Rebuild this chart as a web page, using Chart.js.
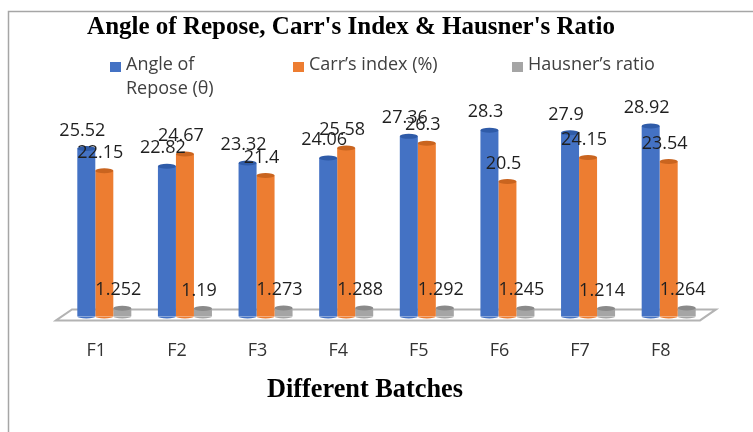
<!DOCTYPE html>
<html><head><meta charset="utf-8">
<style>html,body{margin:0;padding:0;background:#fff}#w{position:relative;width:753px;height:432px}</style>
<script src="https://cdn.jsdelivr.net/npm/chart.js@4/dist/chart.umd.min.js"></script>
</head><body><div id="w"><canvas id="c" width="753" height="432"></canvas></div>
<script>
const categories=["F1","F2","F3","F4","F5","F6","F7","F8"];
const angleOfRepose=[25.52,22.82,23.32,24.06,27.36,28.3,27.9,28.92];
const carrsIndex=[22.15,24.67,21.4,25.58,26.3,20.5,24.15,23.54];
const hausnersRatio=[1.252,1.19,1.273,1.288,1.292,1.245,1.214,1.264];
const seriesNames=["Angle of Repose (θ)","Carr’s index (%)","Hausner’s ratio"];
const chartTitle="Angle of Repose, Carr's Index & Hausner's Ratio";
const axisTitle="Different Batches";
const shades=[["#2f5597","#4472c4","#5b88d8","#4472c4","#2c4f8f"],["#b85f1f","#ed7d31","#ff8f3f","#ed7d31","#a9561c"],["#6e6e6e","#a5a5a5","#b8b8b8","#a5a5a5","#666"]];
const lids=["#2f5ba8","#c9641f","#8a8a8a"];
function fill(ctx){
 const el=ctx.element,g=ctx.chart.ctx;
 if(!el||el.width===undefined||!isFinite(el.x))return shades[ctx.datasetIndex][1];
 const w=el.width,gr=g.createLinearGradient(el.x-w/2,0,el.x+w/2,0),s=shades[ctx.datasetIndex];
 [0,.2,.5,.8,1].forEach((p,i)=>gr.addColorStop(p,s[i]));
 return gr;
}
const frame={id:'frame',afterLayout(ch){
 if(ch.titleBlock){ch.titleBlock.left=0;ch.titleBlock.right=702;}
},beforeDraw(ch){
 const g=ch.ctx,a=ch.chartArea;g.save();
 g.strokeStyle='#a6a6a6';g.lineWidth=1.5;
 g.beginPath();g.moveTo(8.5,432);g.lineTo(8.5,11.5);g.lineTo(753,11.5);g.stroke();
 g.strokeStyle='#b3b3b3';g.lineWidth=2;
 g.beginPath();g.moveTo(a.left-8,a.bottom+4);g.lineTo(a.left+8,a.bottom-7);g.lineTo(a.right+7,a.bottom-7);g.lineTo(a.right-9,a.bottom+4);g.closePath();g.stroke();
 g.restore();
}};
const deco={id:'deco',afterDatasetsDraw(ch){
 const g=ch.ctx;g.save();
 ch.data.datasets.forEach((d,di)=>ch.getDatasetMeta(di).data.forEach((b,i)=>{
  const w=b.width;
  g.fillStyle=shades[di][1];g.beginPath();g.ellipse(b.x,b.base,w/2,2,0,0,Math.PI);g.fill();
  g.fillStyle=lids[di];g.beginPath();g.ellipse(b.x,b.y,w/2,2.5,0,0,2*Math.PI);g.fill();
 }));
 g.fillStyle='#1f1f1f';g.font='18px "Open Sans"';g.textAlign='center';g.textBaseline='middle';
 ch.data.datasets.forEach((d,di)=>ch.getDatasetMeta(di).data.forEach((b,i)=>{
  g.fillText(String(d.data[i]),b.x-4,b.y-18);
 }));
 const xs=[110,293,512];
 g.font='18px "Open Sans"';g.textAlign='left';
 const lines=[["Angle of","Repose (θ)"],[seriesNames[1]],[seriesNames[2]]];
 ch.data.datasets.forEach((d,di)=>{
  g.fillStyle=shades[di][1];g.fillRect(xs[di],62,11,10);
  g.fillStyle='#404040';
  lines[di].forEach((t,k)=>g.fillText(t,xs[di]+16,65+k*24));
 });
 g.fillStyle='#000';g.font='bold 26.3px "Liberation Serif"';g.textAlign='center';
 g.fillText(axisTitle,365,390);
 g.restore();
}};
new Chart(document.getElementById('c'),{type:'bar',
 data:{labels:categories,datasets:[
  {label:seriesNames[0],data:angleOfRepose},
  {label:seriesNames[1],data:carrsIndex},
  {label:seriesNames[2],data:hausnersRatio}].map(d=>({...d,backgroundColor:fill,borderWidth:0,barPercentage:1,categoryPercentage:0.67}))},
 options:{responsive:false,animation:false,
  layout:{padding:{left:64,right:44,top:0,bottom:54}},
  plugins:{legend:{display:false},tooltip:{enabled:false},
   title:{display:true,text:chartTitle,color:'#000',font:{family:'"Liberation Serif"',size:25,weight:'bold'},padding:{top:13,bottom:76}}},
  scales:{
   y:{display:false,min:0,max:30},
   x:{grid:{display:false},border:{display:false},
    ticks:{color:'#333',font:{family:'"Open Sans"',size:18},padding:16,labelOffset:-8,maxRotation:0}}
  }},
 plugins:[frame,deco]});
</script></body></html>
